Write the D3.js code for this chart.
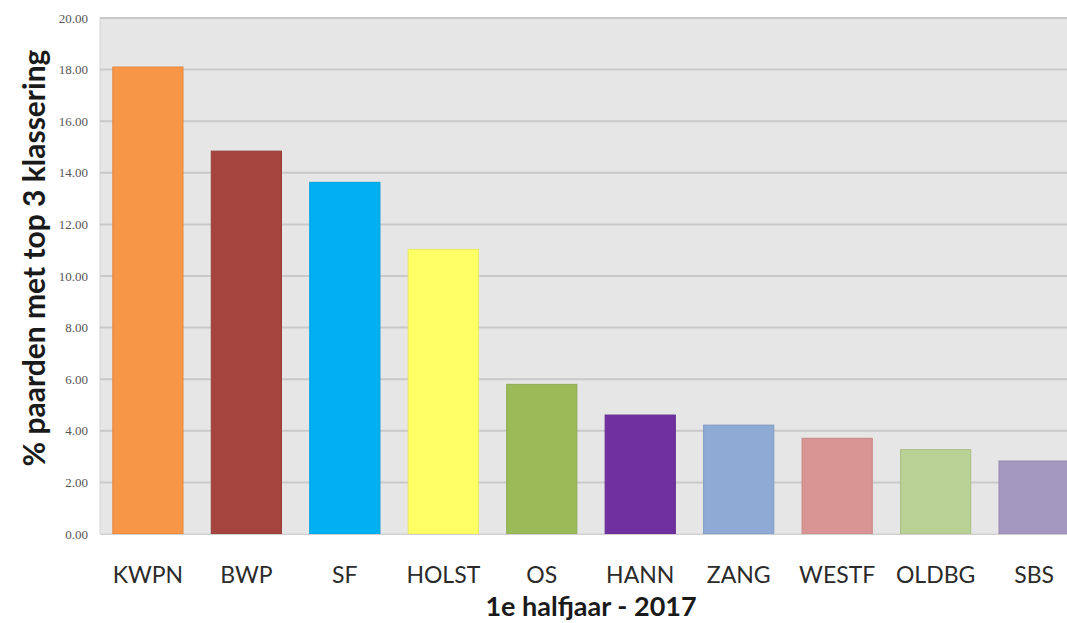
<!DOCTYPE html>
<html>
<head>
<meta charset="utf-8">
<script src="https://cdn.jsdelivr.net/npm/d3@7"></script>
<style>
  body { margin: 0; background: #fff; overflow: hidden; }
</style>
</head>
<body>
<div id="container"></div>
<script>
/**
 * DATA
 * */
const breeds = ["KWPN", "BWP", "SF", "HOLST", "OS", "HANN", "ZANG", "WESTF", "OLDBG", "SBS"];
const percents = [18.1, 14.84, 13.63, 11.03, 5.8, 4.61, 4.22, 3.71, 3.27, 2.83];
const barColors = ["#f79646", "#a5443f", "#00b0f0", "#ffff66", "#9bbb59", "#7030a0",
                   "#8eaad5", "#d99594", "#b9d194", "#a598c0"];
const yTicks = [0, 2, 4, 6, 8, 10, 12, 14, 16, 18, 20];

/**
 * CONSTANTS
 * */
const width = 1067,
  height = 623,
  plot = {left: 100, right: 1082, top: 18, bottom: 534};

const svg = d3.select("#container")
  .append("svg")
  .attr("width", width)
  .attr("height", height);

const x = d3.scaleBand()
  .domain(breeds)
  .range([plot.left, plot.right])
  .paddingInner(0.287)
  .paddingOuter(0.13);

const y = d3.scaleLinear()
  .domain([0, 20])
  .range([plot.bottom, plot.top]);

// plot background
svg.append("rect")
  .attr("x", plot.left)
  .attr("y", plot.top)
  .attr("width", plot.right - plot.left)
  .attr("height", plot.bottom - plot.top)
  .attr("fill", "#e6e6e6")
  .attr("stroke", "#d4d4d4");

// gridlines
svg.append("g")
  .selectAll("line")
  .data(yTicks.filter(d => d > 0))
  .join("line")
  .attr("x1", plot.left)
  .attr("x2", plot.right)
  .attr("y1", d => y(d))
  .attr("y2", d => y(d))
  .attr("stroke", "#c9c9c9")
  .attr("stroke-width", 2);

// y axis labels
const yAxis = svg.append("g")
  .attr("transform", `translate(${plot.left - 12},0)`)
  .call(d3.axisLeft(y).tickValues(yTicks).tickFormat(d3.format(".2f")).tickSize(0).tickPadding(0));
yAxis.select(".domain").remove();
yAxis.selectAll("text")
  .attr("font-family", "'Liberation Serif', 'DejaVu Serif', serif")
  .attr("font-size", 13)
  .attr("fill", "#555");

// bars
svg.append("g")
  .selectAll("rect")
  .data(breeds)
  .join("rect")
  .attr("x", d => x(d))
  .attr("width", x.bandwidth())
  .attr("y", (d, i) => y(percents[i]))
  .attr("height", (d, i) => y(0) - y(percents[i]))
  .attr("fill", (d, i) => barColors[i])
  .attr("stroke", (d, i) => d3.color(barColors[i]).darker(0.25))
  .attr("stroke-width", 1);

// x axis labels
const xAxis = svg.append("g")
  .attr("transform", `translate(0,${plot.bottom})`)
  .call(d3.axisBottom(x).tickSize(0).tickPadding(0));
xAxis.select(".domain").attr("stroke", "#d0d0d0");
xAxis.selectAll("text")
  .attr("dy", null)
  .attr("y", 49)
  .attr("font-family", "Lato, 'Open Sans', sans-serif")
  .attr("font-size", 23)
  .attr("fill", "#2b2b2b");

// axis titles
svg.append("text")
  .attr("x", (plot.left + plot.right) / 2)
  .attr("y", 616)
  .attr("text-anchor", "middle")
  .attr("font-family", "Lato, 'Open Sans', sans-serif")
  .attr("font-weight", "bold")
  .attr("font-size", 27)
  .attr("fill", "#1a1a1a")
  .text("1e halfjaar - 2017");

svg.append("text")
  .attr("transform", `translate(45,258) rotate(-90)`)
  .attr("text-anchor", "middle")
  .attr("font-family", "Lato, 'Open Sans', sans-serif")
  .attr("font-weight", "bold")
  .attr("font-size", 30)
  .attr("fill", "#1a1a1a")
  .text("% paarden met top 3 klassering");
</script>
</body>
</html>
